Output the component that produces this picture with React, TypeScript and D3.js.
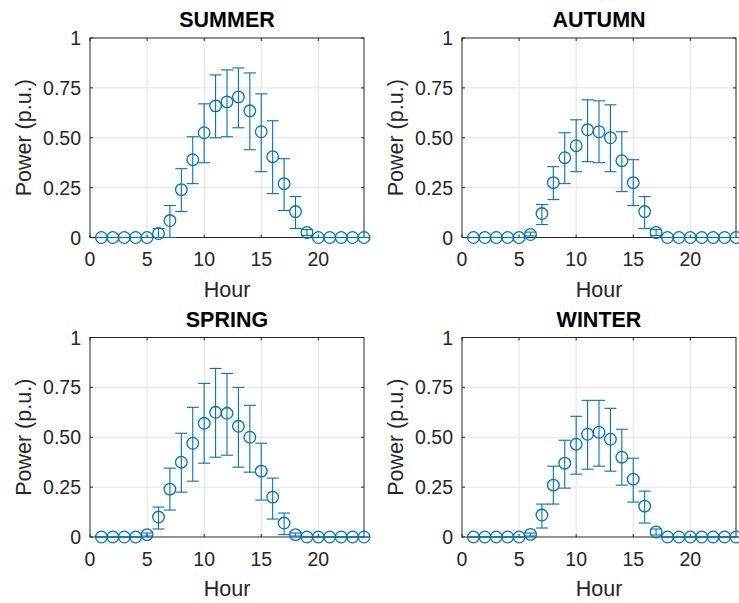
import React from "react";
import * as d3 from "d3";

// hourly mean power (p.u.) and error bar bounds
const hours = [1, 2, 3, 4, 5, 6, 7, 8, 9, 10, 11, 12, 13, 14, 15, 16, 17, 18, 19, 20, 21, 22, 23, 24];

const summerMean = [0, 0, 0, 0, 0, 0.02, 0.085, 0.24, 0.39, 0.525, 0.66, 0.68, 0.705, 0.635, 0.53, 0.405, 0.27, 0.13, 0.025, 0, 0, 0, 0, 0];
const summerLow = [0, 0, 0, 0, 0, 0, 0, 0.13, 0.27, 0.375, 0.5, 0.505, 0.55, 0.44, 0.33, 0.22, 0.135, 0.045, 0.01, 0, 0, 0, 0, 0];
const summerHigh = [0, 0, 0, 0, 0, 0.045, 0.16, 0.345, 0.505, 0.67, 0.815, 0.84, 0.85, 0.825, 0.72, 0.585, 0.395, 0.205, 0.04, 0, 0, 0, 0, 0];

const autumnMean = [0, 0, 0, 0, 0, 0.015, 0.12, 0.275, 0.4, 0.46, 0.54, 0.53, 0.5, 0.385, 0.275, 0.13, 0.025, 0, 0, 0, 0, 0, 0, 0];
const autumnLow = [0, 0, 0, 0, 0, 0.008, 0.065, 0.19, 0.27, 0.33, 0.38, 0.375, 0.33, 0.23, 0.16, 0.045, 0.01, 0, 0, 0, 0, 0, 0, 0];
const autumnHigh = [0, 0, 0, 0, 0, 0.027, 0.165, 0.355, 0.525, 0.59, 0.69, 0.685, 0.665, 0.53, 0.39, 0.205, 0.04, 0, 0, 0, 0, 0, 0, 0];

const springMean = [0, 0, 0, 0, 0.012, 0.1, 0.24, 0.375, 0.47, 0.57, 0.625, 0.62, 0.555, 0.5, 0.33, 0.2, 0.07, 0.012, 0, 0, 0, 0, 0, 0];
const springLow = [0, 0, 0, 0, 0.005, 0.04, 0.135, 0.225, 0.28, 0.37, 0.4, 0.41, 0.35, 0.325, 0.185, 0.09, 0.012, 0.005, 0, 0, 0, 0, 0, 0];
const springHigh = [0, 0, 0, 0, 0.02, 0.15, 0.345, 0.52, 0.65, 0.77, 0.845, 0.82, 0.75, 0.66, 0.47, 0.295, 0.12, 0.02, 0, 0, 0, 0, 0, 0];

const winterMean = [0, 0, 0, 0, 0, 0.013, 0.11, 0.26, 0.37, 0.465, 0.515, 0.525, 0.49, 0.4, 0.29, 0.155, 0.025, 0, 0, 0, 0, 0, 0, 0];
const winterLow = [0, 0, 0, 0, 0, 0.005, 0.045, 0.165, 0.245, 0.315, 0.34, 0.355, 0.33, 0.26, 0.175, 0.07, 0.01, 0, 0, 0, 0, 0, 0, 0];
const winterHigh = [0, 0, 0, 0, 0, 0.02, 0.165, 0.355, 0.485, 0.605, 0.685, 0.685, 0.645, 0.54, 0.395, 0.23, 0.04, 0, 0, 0, 0, 0, 0, 0];

const xTicks = [0, 5, 10, 15, 20];
const yTicks = [0, 0.25, 0.5, 0.75, 1];
const yTickLabels = ["0", "0.25", "0.50", "0.75", "1"];

const panels = [
  { title: "SUMMER", mean: summerMean, low: summerLow, high: summerHigh, left: 90, top: 38 },
  { title: "AUTUMN", mean: autumnMean, low: autumnLow, high: autumnHigh, left: 462, top: 38 },
  { title: "SPRING", mean: springMean, low: springLow, high: springHigh, left: 90, top: 337.5 },
  { title: "WINTER", mean: winterMean, low: winterLow, high: winterHigh, left: 462, top: 337.5 },
];

const W = 274;
const H = 199.5;
const BLUE = "#0072BD";
const INK = "#262626";
const FONT = "'Liberation Sans', Arial, Helvetica, sans-serif";

function Panel({ p }: { p: (typeof panels)[number] }) {
  const x = d3.scaleLinear().domain([0, 24]).range([0, W]);
  const y = d3.scaleLinear().domain([0, 1]).range([H, 0]);
  const cap = 6;
  const tick = 3;

  return (
    <g transform={`translate(${p.left},${p.top})`}>
      <rect x={0} y={0} width={W} height={H} fill="#fff" />
      {/* grid */}
      {xTicks.slice(1).map((t) => (
        <line key={"gx" + t} x1={x(t)} x2={x(t)} y1={0} y2={H} stroke="#e3e3e3" strokeWidth={1} />
      ))}
      {yTicks.slice(1, -1).map((t) => (
        <line key={"gy" + t} x1={0} x2={W} y1={y(t)} y2={y(t)} stroke="#e3e3e3" strokeWidth={1} />
      ))}
      {/* ticks inside, all four sides */}
      {xTicks.map((t) => (
        <g key={"tx" + t}>
          <line x1={x(t)} x2={x(t)} y1={H} y2={H - tick} stroke={INK} />
          <line x1={x(t)} x2={x(t)} y1={0} y2={tick} stroke={INK} />
        </g>
      ))}
      {yTicks.map((t) => (
        <g key={"ty" + t}>
          <line x1={0} x2={tick} y1={y(t)} y2={y(t)} stroke={INK} />
          <line x1={W} x2={W - tick} y1={y(t)} y2={y(t)} stroke={INK} />
        </g>
      ))}
      <rect x={0} y={0} width={W} height={H} fill="none" stroke={INK} strokeWidth={1} />
      {/* error bars */}
      {hours.map((h, i) => {
        const cx = x(h);
        return (
          <g key={"e" + h} stroke={BLUE} strokeWidth={1.1} fill="none">
            <line x1={cx} x2={cx} y1={y(p.low[i])} y2={y(p.high[i])} />
            <line x1={cx - cap} x2={cx + cap} y1={y(p.low[i])} y2={y(p.low[i])} />
            <line x1={cx - cap} x2={cx + cap} y1={y(p.high[i])} y2={y(p.high[i])} />
            <circle cx={cx} cy={y(p.mean[i])} r={5.8} strokeWidth={1.3} />
          </g>
        );
      })}
      {/* tick labels */}
      {xTicks.map((t) => (
        <text key={"lx" + t} x={x(t)} y={H + 28.5} textAnchor="middle" fontSize={19.5} fill={INK} fontFamily={FONT}>
          {t}
        </text>
      ))}
      {yTicks.map((t, i) => (
        <text key={"ly" + t} x={-9} y={y(t) + 7} textAnchor="end" fontSize={19.5} fill={INK} fontFamily={FONT}>
          {yTickLabels[i]}
        </text>
      ))}
      <text x={W / 2} y={H + 59} textAnchor="middle" fontSize={21.5} fill={INK} fontFamily={FONT}>
        Hour
      </text>
      <text
        transform={`translate(-59.5,${H / 2}) rotate(-90)`}
        textAnchor="middle"
        fontSize={21.5}
        fill={INK}
        fontFamily={FONT}
      >
        Power (p.u.)
      </text>
      <text x={W / 2} y={-11} textAnchor="middle" fontSize={21.5} fontWeight="bold" fill="#000" fontFamily={FONT}>
        {p.title}
      </text>
    </g>
  );
}

export default function App() {
  return (
    <svg
      width={739}
      height={603}
      style={{ position: "absolute", left: 0, top: 0, background: "#fff" }}
    >
      <rect width={739} height={603} fill="#fff" />
      {panels.map((p) => (
        <Panel key={p.title} p={p} />
      ))}
    </svg>
  );
}
